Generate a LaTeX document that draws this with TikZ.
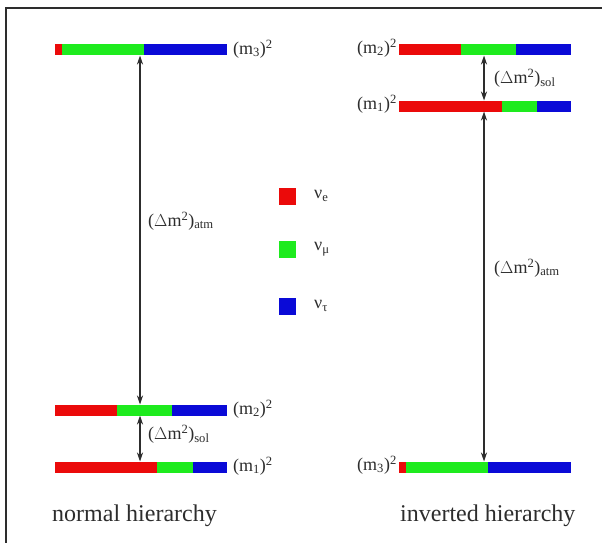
\documentclass[tikz,border=0pt]{standalone}
\usepackage{fontspec}
\setmainfont{Liberation Serif}
\usetikzlibrary{arrows.meta}

\definecolor{nured}{RGB}{235,10,10}
\definecolor{nugreen}{RGB}{30,235,30}
\definecolor{nublue}{RGB}{10,10,215}
\definecolor{ink}{RGB}{45,45,45}

\newcommand{\msq}[1]{(m\textsubscript{#1})\textsuperscript{2}}
\newcommand{\dmsq}[1]{(\(\Delta\)m\textsuperscript{2})\textsubscript{#1}}

\tikzset{
  lbl/.style={inner sep=0pt, text=ink, font=\fontsize{18}{21}\selectfont},
  captext/.style={inner sep=0pt, text=ink, font=\fontsize{24}{28}\selectfont},
  gap/.style={ink, line width=1.2pt, {Stealth[length=9pt,width=6pt]}-{Stealth[length=9pt,width=6pt]}},
  swatch/.style={inner sep=0pt, minimum size=17pt, draw=none},
  frame/.style={line width=2.2pt, draw=ink}
}

% one coloured level: #1 = y centre, #2 = left, #3/#4 = colour boundaries, #5 = right
\newcommand{\level}[5]{%
  \fill[nured]   (#2,#1-5.5) rectangle (#3,#1+5.5);
  \fill[nugreen] (#3,#1-5.5) rectangle (#4,#1+5.5);
  \fill[nublue]  (#4,#1-5.5) rectangle (#5,#1+5.5);
}

\begin{document}
\begin{tikzpicture}[x=1pt,y=-1pt]
  \useasboundingbox (0,0) rectangle (602,543);
  \fill[white] (0,0) rectangle (602,543);

  % partial frame
  \draw[frame] (603,8) -- (6,8) -- (6,544);

  % normal hierarchy levels
  \level{50}{55}{62}{144}{227}
  \level{410}{55}{117}{172}{227}
  \level{467}{55}{157}{193}{227}

  % inverted hierarchy levels
  \level{50}{399}{461}{516}{571}
  \level{106}{399}{502}{537}{571}
  \level{467}{399}{406}{488}{571}

  % level labels
  \node[lbl, anchor=west] (nL3) at (233,49) {\msq{3}};
  \node[lbl, anchor=west] (nL2) at (233,409) {\msq{2}};
  \node[lbl, anchor=west] (nL1) at (233,466) {\msq{1}};
  \node[lbl, anchor=east] (iL2) at (397,48) {\msq{2}};
  \node[lbl, anchor=east] (iL1) at (397,104) {\msq{1}};
  \node[lbl, anchor=east] (iL3) at (397,465) {\msq{3}};

  % arrow end points on the levels
  \coordinate (n3b) at (140,55.5);
  \coordinate (n2t) at (140,404.5);
  \coordinate (n2b) at (140,415.5);
  \coordinate (n1t) at (140,461.5);
  \coordinate (i2b) at (484,55.5);
  \coordinate (i1t) at (484,100.5);
  \coordinate (i1b) at (484,111.5);
  \coordinate (i3t) at (484,461.5);

  \draw[gap] (n3b) -- (n2t);
  \draw[gap] (n2b) -- (n1t);
  \draw[gap] (i2b) -- (i1t);
  \draw[gap] (i1b) -- (i3t);

  % splitting labels
  \node[lbl, anchor=west] (nAtm) at (148,221) {\dmsq{atm}};
  \node[lbl, anchor=west] (nSol) at (148,434) {\dmsq{sol}};
  \node[lbl, anchor=west] (iSol) at (494,78) {\dmsq{sol}};
  \node[lbl, anchor=west] (iAtm) at (494,268) {\dmsq{atm}};

  % flavour legend
  \node[swatch, fill=nured]   (kE) at (287,196) {};
  \node[swatch, fill=nugreen] (kM) at (287,249) {};
  \node[swatch, fill=nublue]  (kT) at (287,306) {};
  \node[lbl, anchor=west] (tE) at (314,196) {ν\textsubscript{e}};
  \node[lbl, anchor=west] (tM) at (314,249) {ν\textsubscript{μ}};
  \node[lbl, anchor=west] (tT) at (314,306) {ν\textsubscript{τ}};

  % captions
  \node[captext, anchor=west] (capN) at (52,516) {normal hierarchy};
  \node[captext, anchor=west] (capI) at (400,516) {inverted hierarchy};
\end{tikzpicture}
\end{document}
